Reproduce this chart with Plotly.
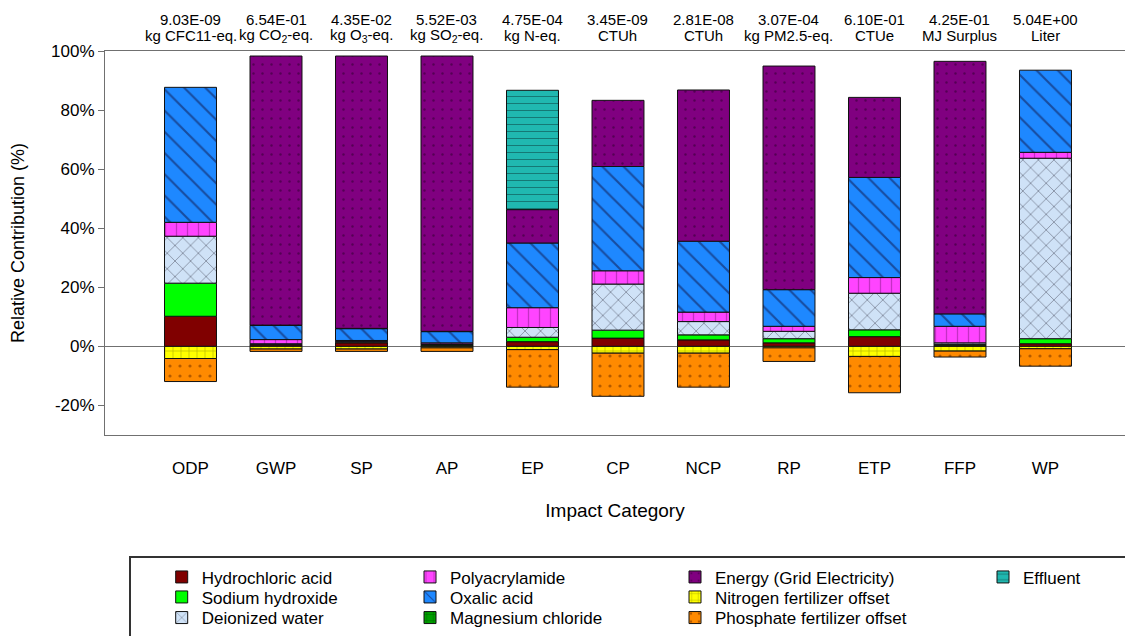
import plotly.graph_objects as go

# Impact categories and the characterised totals shown above each bar
categories = ["ODP", "GWP", "SP", "AP", "EP", "CP", "NCP", "RP", "ETP", "FFP", "WP"]
totals = ["9.03E-09", "6.54E-01", "4.35E-02", "5.52E-03", "4.75E-04", "3.45E-09",
          "2.81E-08", "3.07E-04", "6.10E-01", "4.25E-01", "5.04E+00"]
units = ["kg CFC11-eq.", "kg CO<sub>2</sub>-eq.", "kg O<sub>3</sub>-eq.", "kg SO<sub>2</sub>-eq.",
         "kg N-eq.", "CTUh", "CTUh", "kg PM2.5-eq.", "CTUe", "MJ Surplus", "Liter"]

# Y axis ticks
y_ticks = [-20, 0, 20, 40, 60, 80, 100]
y_tick_text = ["-20%", "0%", "20%", "40%", "60%", "80%", "100%"]

# Relative contribution (%) of each input to each impact category (None = no contribution)
hydrochloric_acid = [10.2, 0.5, 1.2, 0.4, 1.6, 2.8, 2.2, 1.2, 3.3, 0.4, 0.9]
sodium_hydroxide = [11.2, 0.2, 0.2, 0.2, 1.5, 2.7, 1.7, 1.4, 2.3, 0.3, 1.7]
deionized_water = [15.9, 0.2, 0.3, 0.2, 3.3, 15.6, 4.5, 2.5, 12.4, 0.5, 61.1]
polyacrylamide = [4.7, 1.4, 0.3, 0.4, 6.7, 4.5, 3.2, 1.7, 5.3, 5.6, 2.0]
oxalic_acid = [45.7, 4.8, 4.0, 3.8, 21.9, 35.3, 24.0, 12.4, 33.9, 4.2, 27.8]
magnesium_chloride = [None, 0.1, 0.1, 0.1, None, None, None, None, None, None, None]
energy = [None, 91.1, 92.2, 93.2, 11.3, 22.4, 51.2, 75.7, 27.1, 85.5, None]
nitrogen_offset = [-4.1, -0.9, -0.9, -0.5, -1.1, -2.3, -2.3, -0.5, -3.4, -1.6, -0.8]
phosphate_offset = [-7.8, -0.8, -0.8, -1.2, -12.7, -14.6, -11.5, -4.6, -12.3, -2.0, -5.9]
effluent = [None, None, None, None, 40.4, None, None, None, None, None, None]

FONT = "Arial, Liberation Sans, sans-serif"

# name, values, fill, pattern shape, pattern colour, pattern size, solidity, legend (column, row)
series = [
    ("Hydrochloric acid", hydrochloric_acid, "#800000", "", "#000000", 8, 0.2, (0, 0)),
    ("Sodium hydroxide", sodium_hydroxide, "#00ff00", "", "#000000", 8, 0.2, (0, 1)),
    ("Deionized water", deionized_water, "#cfe2f7", "x", "#2a2a3a", 11, 0.14, (0, 2)),
    ("Polyacrylamide", polyacrylamide, "#ff44ff", "|", "#8a1a8a", 11, 0.12, (1, 0)),
    ("Oxalic acid", oxalic_acid, "#1e88ff", "\\", "#101040", 15, 0.14, (1, 1)),
    ("Magnesium chloride", magnesium_chloride, "#00a000", "+", "#003000", 8, 0.15, (1, 2)),
    ("Energy (Grid Electricity)", energy, "#800080", ".", "#2a002a", 9, 0.06, (2, 0)),
    ("Nitrogen fertilizer offset", nitrogen_offset, "#ffff00", "+", "#6a6a00", 8, 0.15, (2, 1)),
    ("Phosphate fertilizer offset", phosphate_offset, "#ff8a00", ".", "#6a2a00", 10, 0.08, (2, 2)),
    ("Effluent", effluent, "#20b8b0", "-", "#0a3a3a", 7, 0.15, (3, 0)),
]

W, H = 1125, 636
text_x = [201.7, 450, 715, 1023]
row_y = [577.7, 597.7, 618.3]

fig = go.Figure()
legends = {}
for i, (name, vals, color, shape, fg, size, solid, (col, row)) in enumerate(series):
    key = "legend" if i == 0 else f"legend{i + 1}"
    pattern = dict(shape=shape, fgcolor=fg, bgcolor=color, size=size,
                   solidity=solid, fillmode="overlay")
    fig.add_trace(go.Bar(
        x=categories, y=vals, name=name, legend=key, showlegend=True,
        marker=dict(color=color, pattern=pattern,
                    line=dict(color="#111111", width=1)),
    ))
    legends[key] = dict(
        x=(text_x[col] - 40) / W, y=1 - (row_y[row] - 18.3) / H,
        xref="container", yref="container", xanchor="left", yanchor="top",
        orientation="v", bgcolor="rgba(0,0,0,0)", borderwidth=0,
        font=dict(family=FONT, size=17, color="#000000"),
    )

annotations = []
for cat, tot, unit in zip(categories, totals, units):
    annotations.append(dict(x=cat, y=1.082, xref="x", yref="paper", text=tot,
                            showarrow=False, yanchor="middle",
                            font=dict(family=FONT, size=15, color="#000000")))
    annotations.append(dict(x=cat, y=1.040, xref="x", yref="paper", text=unit,
                            showarrow=False, yanchor="middle",
                            font=dict(family=FONT, size=15, color="#000000")))
# y axis title
annotations.append(dict(x=(18 - 105) / 1020, y=0.5, xref="paper", yref="paper",
                        text="Relative Contribution (%)", textangle=-90, showarrow=False,
                        xanchor="center", yanchor="middle",
                        font=dict(family=FONT, size=18, color="#000000")))

fig.update_layout(
    width=W, height=H, showlegend=True,
    margin=dict(l=105, r=0, t=51, b=201, autoexpand=False),
    paper_bgcolor="#ffffff", plot_bgcolor="#ffffff",
    barmode="relative", bargap=0.392,
    font=dict(family=FONT, color="#000000"),
    annotations=annotations,
    shapes=[dict(type="rect", xref="paper", yref="paper",
                 x0=(130 - 105) / 1020, x1=1.2, y0=(435 - 557) / 384, y1=-0.8,
                 line=dict(color="#333333", width=2), fillcolor="rgba(0,0,0,0)")],
    **legends,
)

fig.update_xaxes(
    range=[-1, 10.93], showline=True, mirror=True, linecolor="#707070", linewidth=1,
    ticks="", showgrid=False, zeroline=False, ticklabelstandoff=18, automargin=False,
    tickfont=dict(family=FONT, size=17, color="#000000"),
    title=dict(text="Impact Category", standoff=26,
               font=dict(family=FONT, size=19, color="#000000")),
)
fig.update_yaxes(
    range=[-30, 100], tickmode="array", tickvals=y_ticks, ticktext=y_tick_text,
    showline=True, linecolor="#707070", linewidth=1, automargin=False,
    ticks="outside", ticklen=6, tickcolor="#707070",
    showgrid=False, zeroline=True, zerolinecolor="#707070", zerolinewidth=1,
    tickfont=dict(family=FONT, size=17, color="#000000"),
)

fig.write_html("out.html")
